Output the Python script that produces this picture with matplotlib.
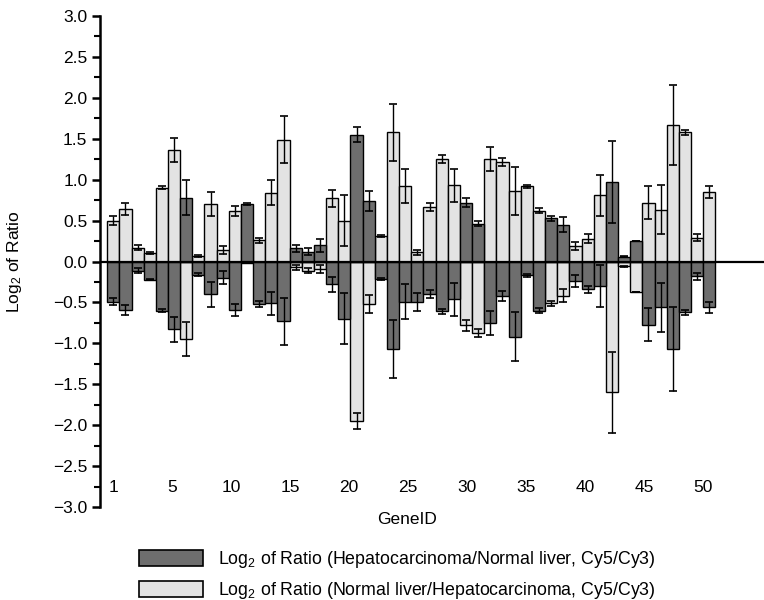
import matplotlib
matplotlib.use("Agg")
import matplotlib.pyplot as plt
import numpy as np
from matplotlib.patches import Patch
from matplotlib.ticker import MultipleLocator

plt.rcParams['font.family'] = ['Liberation Sans', 'DejaVu Sans']
plt.rcParams['mathtext.default'] = 'regular'

genes = list(range(1, 51))
tick_labels = ["1", "5", "10", "15", "20", "25", "30", "35", "40", "45", "50"]

dark_vals = [-0.49, -0.59, -0.11, -0.22, -0.60, -0.83, 0.78, -0.16, -0.40, -0.20,
             -0.59, 0.70, -0.52, -0.51, -0.73, 0.16, 0.12, 0.20, -0.28, -0.70,
             1.55, 0.74, -0.21, -1.07, -0.49, -0.50, -0.40, -0.61, -0.46, 0.72,
             0.46, -0.75, -0.42, -0.92, -0.17, -0.60, 0.53, 0.45, -0.24, -0.34,
             -0.30, 0.97, 0.06, 0.25, -0.77, -0.56, -1.07, -0.62, -0.18, -0.56]
dark_err = [0.04, 0.06, 0.03, 0.01, 0.02, 0.15, 0.21, 0.02, 0.15, 0.08,
            0.07, 0.01, 0.04, 0.14, 0.29, 0.04, 0.04, 0.08, 0.09, 0.31,
            0.09, 0.12, 0.01, 0.35, 0.21, 0.11, 0.05, 0.03, 0.20, 0.05,
            0.03, 0.15, 0.06, 0.30, 0.02, 0.03, 0.03, 0.09, 0.07, 0.04,
            0.26, 0.50, 0.01, 0.00, 0.20, 0.30, 0.51, 0.03, 0.04, 0.07]
light_vals = [0.50, 0.64, 0.17, 0.10, 0.90, 1.36, -0.95, 0.07, 0.70, 0.14,
              0.62, -0.02, 0.26, 0.84, 1.49, -0.07, -0.11, -0.09, 0.77, 0.50,
              -1.95, -0.52, 0.31, 1.58, 0.92, 0.11, 0.67, 1.25, 0.93, -0.78,
              -0.87, 1.25, 1.22, 0.86, 0.92, 0.62, -0.51, -0.42, 0.19, 0.28,
              0.81, -1.60, -0.06, -0.37, 0.72, 0.63, 1.67, 1.58, 0.29, 0.85]
light_err = [0.05, 0.07, 0.03, 0.01, 0.02, 0.15, 0.21, 0.01, 0.15, 0.05,
             0.06, 0.00, 0.03, 0.15, 0.29, 0.03, 0.03, 0.05, 0.10, 0.31,
             0.10, 0.11, 0.01, 0.35, 0.21, 0.03, 0.05, 0.05, 0.20, 0.07,
             0.05, 0.15, 0.05, 0.29, 0.02, 0.03, 0.03, 0.08, 0.05, 0.06,
             0.25, 0.50, 0.01, 0.00, 0.20, 0.30, 0.49, 0.03, 0.04, 0.07]

dark_label = "Log$_2$ of Ratio (Hepatocarcinoma/Normal liver, Cy5/Cy3)"
light_label = "Log$_2$ of Ratio (Normal liver/Hepatocarcinoma, Cy5/Cy3)"

DARK = "#6e6e6e"
LIGHT = "#e3e3e3"
FS = 12.5

fig = plt.figure(figsize=(7.64, 6.0), dpi=100)
ax = fig.add_axes([100/764, 1 - 507/600, 1 - 100/764, (507 - 16)/600])

x = np.array(genes, dtype=float)
ax.bar(x, light_vals, width=1.0, color=LIGHT, edgecolor="black", linewidth=1.0, zorder=2)
ax.bar(x, dark_vals, width=1.0, color=DARK, edgecolor="black", linewidth=1.0, zorder=2)
ax.errorbar(x, light_vals, yerr=light_err, fmt="none", ecolor="black",
            elinewidth=1.0, capsize=3.2, capthick=1.2, zorder=3)
ax.errorbar(x, dark_vals, yerr=dark_err, fmt="none", ecolor="black",
            elinewidth=1.0, capsize=3.2, capthick=1.2, zorder=3)
ax.axhline(0, color="black", linewidth=1.6, zorder=4)

ax.set_xlim(-0.09, 54.5)
ax.set_ylim(-3.0, 3.0)

for s in ["top", "right", "bottom"]:
    ax.spines[s].set_visible(False)
ax.spines["left"].set_linewidth(1.8)
ax.set_xticks([])
ax.yaxis.set_major_locator(MultipleLocator(0.5))
ax.yaxis.set_minor_locator(MultipleLocator(0.25))
ax.tick_params(axis="y", which="major", length=6, width=1.8, labelsize=FS, pad=3)
ax.tick_params(axis="y", which="minor", length=4, width=1.5)
ax.yaxis.set_major_formatter(matplotlib.ticker.FuncFormatter(
    lambda v, p: ("\u2212%.1f" % abs(v)) if v < -1e-9 else "%.1f" % abs(v)))

label_pos = np.linspace(1, 49.5, len(tick_labels))
for xp, t in zip(label_pos, tick_labels):
    ax.text(xp, -2.76, t, ha="center", va="center", fontsize=FS)

fig.text(15/764, 1 - 262/600, "Log$_2$ of Ratio", rotation=90, ha="center", va="center",
         fontsize=FS)
fig.text(407/764, 1 - 520/600, "GeneID", ha="center", va="center", fontsize=FS)

handles = [Patch(facecolor=DARK, edgecolor="black", linewidth=1.2, label=dark_label),
           Patch(facecolor=LIGHT, edgecolor="black", linewidth=1.2, label=light_label)]
fig.legend(handles=handles, loc="upper left", bbox_to_anchor=(134/764, 1 - 544/600),
           frameon=False, fontsize=12.8, handlelength=3.6, handleheight=1.0,
           handletextpad=0.8, labelspacing=0.55, borderaxespad=0, borderpad=0.3)

fig.savefig("out.png", dpi=100)
